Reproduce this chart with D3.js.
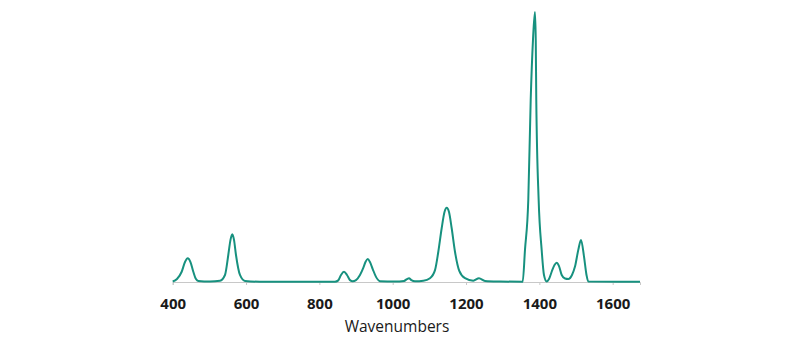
<!DOCTYPE html>
<html>
<head>
<meta charset="utf-8">
<script src="https://cdn.jsdelivr.net/npm/d3@7"></script>
<style>
  html, body { margin: 0; padding: 0; background: #fff; }
  svg { display: block; }
</style>
</head>
<body>
<svg id="chart" width="800" height="346"></svg>
<script>
// Spectrum samples (wavenumber, relative intensity 0-100)
const wavenumbers = [400, 411.7, 424.5, 433.5, 440.9, 448.5, 456.2, 463.5, 469.8, 501.7,
  529, 542.6, 551.6, 557.6, 562.5, 567.2, 572.6, 583.5, 597.2, 638,
  842.6, 851.6, 859, 867.2, 875.4, 883.6, 890.9, 899.9, 910.8, 919.8,
  925.8, 931.8, 938, 945.5, 954.5, 965.4, 1006, 1031, 1039, 1044.5,
  1051, 1060.8, 1083.5, 1101.7, 1115.4, 1124.4, 1133.6, 1141.3, 1147.3, 1153.6,
  1160.9, 1169.9, 1181.6, 1197.2, 1219.8, 1235.4, 1251.7, 1292.6, 1354.5, 1360.8,
  1369.8, 1376.4, 1382.6, 1388, 1390.2, 1391.6, 1398.1, 1406.3, 1412.6, 1420,
  1426.3, 1433.6, 1441.3, 1447.3, 1453.6, 1461, 1470, 1479, 1489, 1497.2,
  1506.2, 1513.6, 1521.8, 1528.6, 1533.5, 1674.5];
const intensities = [0.2, 1.1, 3.8, 7.4, 8.8, 7.4, 3.8, 1.1, 0.4, 0.2,
  0.5, 2.6, 10, 15.6, 17.7, 15.6, 10, 2.6, 0.4, 0.1,
  0.1, 0.6, 2.6, 3.8, 2.6, 0.7, 0.3, 0.7, 2.6, 5.2,
  7.4, 8.5, 7.4, 4.8, 1.9, 0.3, 0.2, 0.4, 1.1, 1.4,
  0.7, 0.3, 0.5, 1.4, 4.4, 11.2, 19.9, 25.9, 27.5, 25.9,
  19.9, 11.2, 4.1, 1.4, 0.5, 1.4, 0.4, 0.2, 0.1, 11.9,
  30.4, 67.4, 89.6, 100, 89.6, 67.4, 30.4, 11.9, 2.6, 0.2,
  1.1, 3.8, 6.3, 7.1, 5.9, 2.6, 1.3, 1.1, 2.6, 5.7,
  11.9, 15.6, 9.4, 2.6, 0.2, 0.1];
const tickValues = [400, 600, 800, 1000, 1200, 1400, 1600];
const xLabel = "Wavenumbers";

const data = wavenumbers.map((w, i) => ({ w, v: intensities[i] }));

const svg = d3.select("#chart");
const x = d3.scaleLinear().domain([400, 1674.5]).range([172.7, 640]);
const y = d3.scaleLinear().domain([0, 100]).range([282, 12]);

// axis
const axis = d3.axisBottom(x).tickValues(tickValues).tickSize(3).tickPadding(13).tickFormat(d3.format("d"));
const gAxis = svg.append("g").attr("transform", "translate(0,282)").call(axis);
gAxis.select(".domain").attr("stroke", "#c8c8c8").attr("stroke-width", 1);
gAxis.selectAll(".tick line").attr("stroke", "#c8c8c8");
gAxis.selectAll(".tick text")
  .attr("fill", "#1a1a1a")
  .style("font-family", "'Open Sans', sans-serif")
  .style("font-size", "15px")
  .style("font-weight", "700");

svg.append("text")
  .attr("x", 397).attr("y", 331.5)
  .attr("text-anchor", "middle")
  .attr("fill", "#1a1a1a")
  .style("font-family", "'Open Sans', sans-serif")
  .style("font-size", "15.5px")
  .text(xLabel);

const line = d3.line().x(d => x(d.w)).y(d => y(d.v)).curve(d3.curveMonotoneX);
svg.append("path")
  .datum(data)
  .attr("d", line)
  .attr("fill", "none")
  .attr("stroke", "#17917f")
  .attr("stroke-width", 2)
  .attr("stroke-linejoin", "round");
</script>
</body>
</html>
